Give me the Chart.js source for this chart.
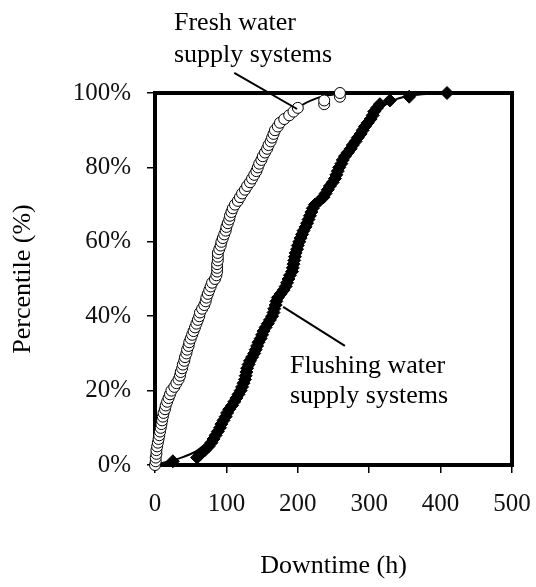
<!DOCTYPE html>
<html>
<head>
<meta charset="utf-8">
<title>Downtime percentile</title>
<script src="https://cdn.jsdelivr.net/npm/chart.js@4.4.1/dist/chart.umd.min.js"></script>
<style>
  html, body { margin: 0; padding: 0; background: #fff; }
  #chart { display: block; }
</style>
</head>
<body>
<canvas id="chart" width="536" height="587"></canvas>
<script>
/**
 * Data: downtime (h) against percentile (%)
 */
const freshHours = [
  0, 1, 1, 2, 2, 3, 4, 5, 6, 7,
  8, 9, 10, 11, 12, 14, 15, 17, 19, 21,
  23, 27, 30, 33, 35, 36, 38, 39, 41, 42,
  44, 45, 47, 48, 50, 52, 54, 56, 58, 60,
  62, 63, 66, 69, 71, 72, 74, 76, 78, 80,
  84, 86, 87, 87, 87, 88, 88, 88, 90, 92,
  93, 95, 97, 99, 100, 102, 104, 105, 107, 109,
  112, 116, 119, 122, 126, 129, 133, 136, 139, 142,
  144, 146, 149, 151, 154, 157, 159, 162, 164, 166,
  168, 172, 175, 181, 188, 194, 200, 237, 237, 259, 259
];
const freshPct = [
  0, 1, 2, 3, 4, 5, 6, 7, 8, 9,
  10, 11, 12, 13, 14, 15, 16, 17, 18, 19,
  20, 21, 22, 23, 24, 25, 26, 27, 28, 29,
  30, 31, 32, 33, 34, 35, 36, 37, 38, 39,
  40, 41, 42, 43, 44, 45, 46, 47, 48, 49,
  50, 51, 52, 53, 54, 55, 56, 57, 58, 59,
  60, 61, 62, 63, 64, 65, 66, 67, 68, 69,
  70, 71, 72, 73, 74, 75, 76, 77, 78, 79,
  80, 81, 82, 83, 84, 85, 86, 87, 88, 89,
  90, 91, 92, 93, 94, 95, 96, 97, 98, 99, 100
];

const flushHours = [
  25, 59, 64, 70, 75, 79, 82, 85, 88, 91,
  93, 96, 99, 101, 104, 108, 111, 114, 117, 120,
  122, 124, 126, 127, 128, 129, 131, 133, 136, 139,
  141, 143, 145, 148, 150, 152, 155, 158, 161, 164,
  166, 167, 169, 170, 172, 176, 180, 183, 185, 187,
  189, 192, 193, 194, 195, 196, 197, 199, 200, 202,
  204, 206, 208, 211, 213, 215, 217, 219, 221, 224,
  230, 236, 239, 242, 245, 249, 252, 254, 256, 258,
  261, 263, 266, 270, 274, 277, 281, 284, 288, 291,
  294, 298, 302, 305, 307, 311, 315, 329, 356, 409
];
const flushPct = [
  1, 2, 3, 4, 5, 6, 7, 8, 9, 10,
  11, 12, 13, 14, 15, 16, 17, 18, 19, 20,
  21, 22, 23, 24, 25, 26, 27, 28, 29, 30,
  31, 32, 33, 34, 35, 36, 37, 38, 39, 40,
  41, 42, 43, 44, 45, 46, 47, 48, 49, 50,
  51, 52, 53, 54, 55, 56, 57, 58, 59, 60,
  61, 62, 63, 64, 65, 66, 67, 68, 69, 70,
  71, 72, 73, 74, 75, 76, 77, 78, 79, 80,
  81, 82, 83, 84, 85, 86, 87, 88, 89, 90,
  91, 92, 93, 94, 95, 96, 97, 98, 99, 100
];

// fitted distribution curves
const freshFitHours = [0, 10, 25, 50, 75, 100, 125, 150, 175, 200, 225, 250, 265];
const freshFitPct = [0, 12, 21, 34, 47, 63, 75, 84, 91, 96, 98.5, 99.6, 100];
const flushFitHours = [0, 20, 40, 60, 80, 100, 120, 140, 160, 180, 200, 220, 240, 260, 280, 300, 320, 340, 360, 380, 410];
const flushFitPct = [0, 1, 2.2, 4, 7.5, 13, 20, 28, 37, 46, 56, 66, 74, 82, 88, 93, 96.5, 98.5, 99.3, 99.7, 100];

const xTicks = [0, 100, 200, 300, 400, 500];
const yTicks = [0, 20, 40, 60, 80, 100];

const labelFont = '"Liberation Serif", "Times New Roman", serif';

function toPoints(xs, ys) {
  return xs.map((x, i) => ({ x: x, y: ys[i] }));
}

/**
 * Thick frame round the plot area, drawn under the markers
 */
const frameBox = {
  id: 'frameBox',
  beforeDatasetsDraw(chart) {
    const { ctx, chartArea: a } = chart;
    ctx.save();
    ctx.strokeStyle = '#000';
    ctx.lineWidth = 4;
    ctx.strokeRect(a.left, a.top, a.right - a.left, a.bottom - a.top);
    ctx.restore();
  }
};

/**
 * Callout labels with leader lines
 */
const callouts = [
  { lines: ['Fresh water', 'supply systems'], at: [26.6, 116.9], gap: 32, from: [111, 105.4], to: [199, 95.7] },
  { lines: ['Flushing water', 'supply systems'], at: [189, 24.7], gap: 30, from: [179.5, 42.5], to: [266, 32] }
];

const calloutPlugin = {
  id: 'calloutPlugin',
  afterDatasetsDraw(chart) {
    const { ctx } = chart;
    const xs = chart.scales.x;
    const ys = chart.scales.y;
    ctx.save();
    ctx.strokeStyle = '#000';
    ctx.lineWidth = 2;
    ctx.fillStyle = '#000';
    ctx.font = '26px ' + labelFont;
    ctx.textAlign = 'left';
    ctx.textBaseline = 'alphabetic';
    callouts.forEach(c => {
      ctx.beginPath();
      ctx.moveTo(xs.getPixelForValue(c.from[0]), ys.getPixelForValue(c.from[1]));
      ctx.lineTo(xs.getPixelForValue(c.to[0]), ys.getPixelForValue(c.to[1]));
      ctx.stroke();
      const tx = xs.getPixelForValue(c.at[0]);
      const ty = ys.getPixelForValue(c.at[1]);
      c.lines.forEach((t, i) => ctx.fillText(t, tx, ty + i * c.gap));
    });
    ctx.restore();
  }
};

const ctx = document.getElementById('chart');

new Chart(ctx, {
  type: 'scatter',
  data: {
    datasets: [
      {
        label: 'Fresh water supply systems',
        data: toPoints(freshHours, freshPct),
        pointStyle: 'circle',
        pointRadius: 5.5,
        backgroundColor: '#fff',
        borderColor: '#000',
        borderWidth: 1,
        clip: false
      },
      {
        label: 'Flushing water supply systems',
        data: toPoints(flushHours, flushPct),
        pointStyle: 'rectRot',
        pointRadius: 6.5,
        backgroundColor: '#000',
        borderColor: '#000',
        borderWidth: 1,
        clip: false
      },
      {
        label: 'Fresh fit',
        data: toPoints(freshFitHours, freshFitPct),
        showLine: true,
        pointRadius: 0,
        borderColor: '#000',
        borderWidth: 2,
        cubicInterpolationMode: 'monotone',
        clip: false
      },
      {
        label: 'Flushing fit',
        data: toPoints(flushFitHours, flushFitPct),
        showLine: true,
        pointRadius: 0,
        borderColor: '#000',
        borderWidth: 2,
        cubicInterpolationMode: 'monotone',
        clip: false
      }
    ]
  },
  options: {
    responsive: false,
    animation: false,
    events: [],
    layout: {
      padding: { top: 93, right: 24, bottom: 0, left: 0 }
    },
    plugins: {
      legend: { display: false },
      tooltip: { enabled: false }
    },
    scales: {
      x: {
        type: 'linear',
        min: 0,
        max: 500,
        afterFit: s => { s.height = 122; s.paddingLeft = 0; s.paddingRight = 0; },
        afterBuildTicks: s => { s.ticks = xTicks.map(v => ({ value: v })); },
        border: { display: false },
        grid: { drawOnChartArea: false, drawTicks: true, tickLength: 8, color: '#000', lineWidth: 1.5 },
        ticks: {
          padding: 16,
          color: '#111',
          font: { family: labelFont, size: 25 },
          callback: v => String(v)
        },
        title: {
          display: true,
          text: 'Downtime (h)',
          color: '#000',
          font: { family: labelFont, size: 26 },
          padding: { top: 0, bottom: 5 }
        }
      },
      y: {
        type: 'linear',
        min: 0,
        max: 100,
        afterFit: s => { s.width = 155; s.paddingTop = 0; s.paddingBottom = 0; },
        afterBuildTicks: s => { s.ticks = yTicks.map(v => ({ value: v })); },
        border: { display: false },
        grid: { drawOnChartArea: false, drawTicks: true, tickLength: 8, color: '#000', lineWidth: 1.5 },
        ticks: {
          padding: 16,
          color: '#111',
          font: { family: labelFont, size: 25 },
          callback: v => v + '%'
        },
        title: {
          display: true,
          text: 'Percentile (%)',
          color: '#000',
          font: { family: labelFont, size: 26 },
          padding: { top: 8, bottom: 0 }
        }
      }
    }
  },
  plugins: [frameBox, calloutPlugin]
});
</script>
</body>
</html>
